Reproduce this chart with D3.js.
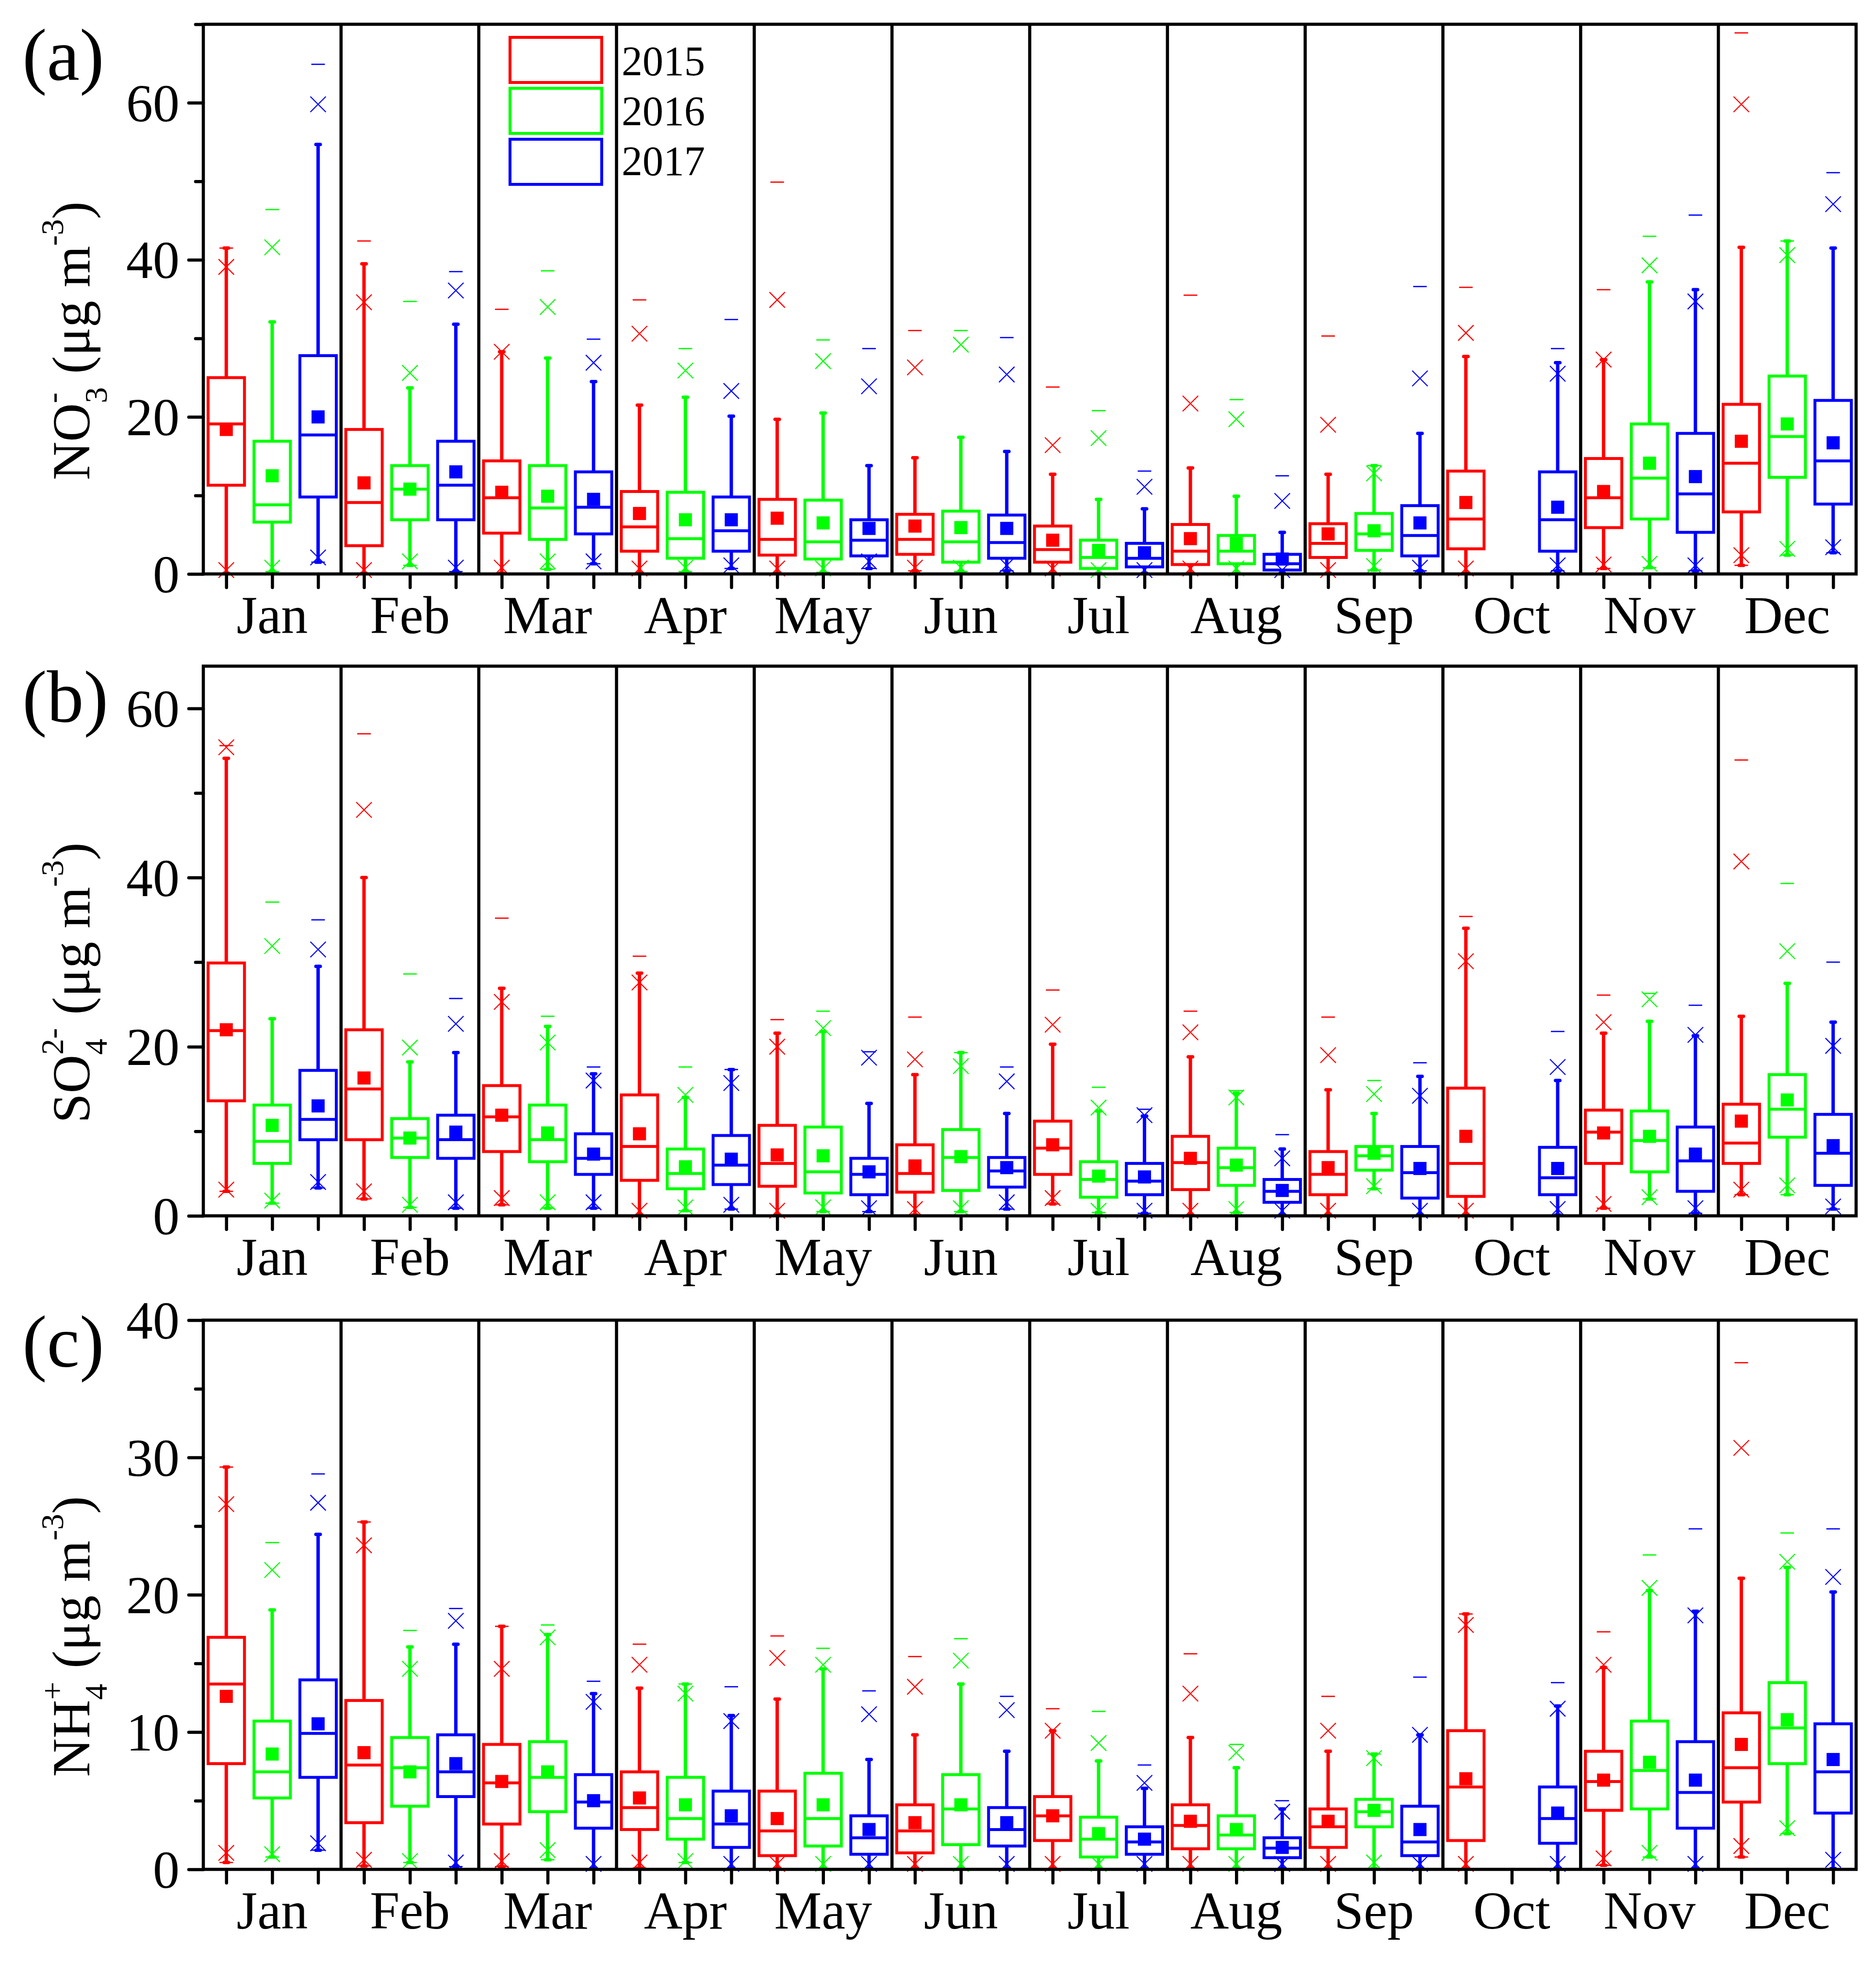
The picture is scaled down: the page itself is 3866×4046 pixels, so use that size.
<!DOCTYPE html>
<html>
<head>
<meta charset="utf-8">
<script src="https://cdn.jsdelivr.net/npm/d3@7"></script>
<style>
  html, body { margin: 0; padding: 0; background: #fff; }
  svg { display: block; }
  text { font-family: "Liberation Serif", "Times New Roman", serif; fill: #000; }
</style>
</head>
<body>
<svg id="chart" width="3866" height="4046"></svg>
<script>
const months = ["Jan", "Feb", "Mar", "Apr", "May", "Jun", "Jul", "Aug", "Sep", "Oct", "Nov", "Dec"];
const years = ["2015", "2016", "2017"];
const yearColors = ["#ff0000", "#00ff00", "#0000ff"];

// each box: [lowWhisker(=min), p1, q1, median, q3, highWhisker, p99, max, mean]
const no3_2015 = [
  [0.1, 0.5, 11.3, 19.1, 25.0, 41.5, 39.1, 41.5, 18.4],
  [0.1, 0.5, 3.6, 9.1, 18.4, 39.5, 34.6, 42.4, 11.6],
  [0.1, 0.8, 5.2, 9.7, 14.4, 28.3, 28.3, 33.7, 10.4],
  [0.1, 0.7, 2.9, 6.0, 10.5, 21.5, 30.6, 34.9, 7.7],
  [0.1, 0.7, 2.4, 4.4, 9.5, 19.7, 34.9, 49.9, 7.1],
  [0.4, 0.8, 2.5, 4.4, 7.6, 14.8, 26.3, 31.0, 6.1],
  [0.1, 0.7, 1.5, 3.1, 6.1, 12.7, 16.4, 23.8, 4.3],
  [0.1, 0.7, 1.2, 2.9, 6.3, 13.5, 21.7, 35.5, 4.5],
  [0.1, 0.5, 2.1, 3.9, 6.4, 12.7, 19.0, 30.3, 5.1],
  [0.1, 0.7, 3.2, 7.0, 13.1, 27.7, 30.7, 36.5, 9.1],
  [0.7, 1.2, 5.9, 9.7, 14.7, 27.3, 27.3, 36.2, 10.5],
  [1.1, 2.4, 7.9, 14.1, 21.6, 41.6, 59.8, 68.9, 16.9]
];
const no3_2016 = [
  [0.3, 0.8, 6.6, 8.8, 16.9, 32.1, 41.6, 46.4, 12.5],
  [1.1, 1.6, 6.9, 10.8, 13.8, 23.7, 25.6, 34.7, 10.8],
  [0.6, 1.6, 4.4, 8.4, 13.8, 27.5, 34.0, 38.6, 9.9],
  [0.3, 0.8, 2.0, 4.5, 10.4, 22.5, 25.9, 28.7, 6.9],
  [0.2, 0.7, 1.9, 4.1, 9.4, 20.5, 27.1, 29.8, 6.5],
  [0.3, 0.8, 1.5, 4.1, 8.0, 17.4, 29.2, 31.0, 5.9],
  [0.1, 0.5, 0.7, 2.1, 4.3, 9.5, 17.3, 20.8, 3.0],
  [0.1, 0.7, 1.3, 2.9, 4.9, 9.9, 19.7, 22.2, 3.9],
  [0.5, 1.0, 3.0, 5.1, 7.7, 13.8, 12.8, 13.8, 5.5],
  null,
  [0.8, 1.3, 7.0, 12.2, 19.1, 37.2, 39.3, 43.0, 14.1],
  [2.4, 3.2, 12.3, 17.5, 25.2, 42.4, 40.6, 42.4, 19.1]
];
const no3_2017 = [
  [1.5, 2.1, 9.8, 17.7, 27.8, 54.7, 59.8, 64.9, 20.0],
  [0.3, 0.8, 6.9, 11.3, 16.9, 31.8, 36.1, 38.5, 13.0],
  [1.3, 1.6, 5.1, 8.5, 13.0, 24.5, 26.9, 29.9, 9.5],
  [0.7, 1.1, 2.9, 5.5, 9.8, 20.1, 23.3, 32.4, 6.9],
  [0.7, 1.6, 2.3, 4.3, 6.9, 13.8, 23.9, 28.7, 5.8],
  [0.4, 1.1, 2.0, 4.0, 7.5, 15.6, 25.4, 30.1, 5.8],
  [0.1, 0.5, 0.9, 2.0, 3.9, 8.3, 11.1, 13.1, 2.7],
  [0.1, 0.5, 0.5, 1.3, 2.5, 5.3, 9.3, 12.5, 1.9],
  [0.4, 0.8, 2.3, 4.9, 8.7, 17.9, 24.9, 36.6, 6.5],
  [0.4, 1.1, 2.9, 6.9, 13.0, 26.9, 25.5, 28.7, 8.5],
  [0.4, 1.1, 5.3, 10.2, 17.9, 36.2, 34.7, 45.7, 12.4],
  [2.7, 3.4, 8.9, 14.4, 22.1, 41.5, 47.1, 51.1, 16.7]
];

const so4_2015 = [
  [2.9, 3.1, 13.6, 21.9, 29.9, 54.1, 55.4, 55.6, 22.0],
  [2.0, 2.9, 9.0, 15.0, 22.0, 40.0, 48.0, 57.0, 16.3],
  [1.3, 2.1, 7.6, 11.7, 15.4, 26.9, 25.3, 35.2, 11.9],
  [0.1, 0.6, 4.2, 8.2, 14.3, 28.7, 27.6, 30.7, 9.7],
  [0.1, 0.6, 3.5, 6.2, 10.7, 21.6, 20.0, 23.2, 7.2],
  [0.1, 0.8, 2.8, 5.0, 8.4, 16.7, 18.5, 23.5, 5.9],
  [1.4, 2.1, 4.9, 8.0, 11.2, 20.3, 22.6, 26.7, 8.4],
  [0.1, 0.6, 3.1, 6.3, 9.4, 18.8, 21.7, 24.2, 6.8],
  [0.1, 0.6, 2.5, 4.9, 7.6, 14.9, 19.0, 23.5, 5.7],
  [0.1, 0.6, 2.3, 6.2, 15.1, 34.0, 30.1, 35.4, 9.4],
  [0.9, 1.4, 6.2, 9.9, 12.5, 21.6, 22.9, 26.1, 9.8],
  [2.5, 3.1, 6.2, 8.6, 13.2, 23.6, 41.9, 53.9, 11.2]
];
const so4_2016 = [
  [1.5, 1.8, 6.2, 8.8, 13.1, 23.3, 31.9, 37.1, 10.7],
  [1.0, 1.3, 6.9, 9.2, 11.5, 18.2, 19.9, 28.6, 9.2],
  [0.9, 1.6, 6.4, 9.0, 13.1, 22.4, 20.5, 23.6, 9.8],
  [0.6, 1.0, 3.2, 5.0, 7.9, 14.0, 14.3, 17.6, 5.8],
  [0.5, 1.0, 2.7, 5.2, 10.5, 21.8, 22.2, 24.2, 7.1],
  [0.5, 0.9, 3.0, 6.9, 10.2, 19.3, 17.7, 19.3, 7.0],
  [0.4, 0.6, 2.2, 4.3, 6.4, 12.4, 12.8, 15.2, 4.7],
  [0.4, 0.8, 3.6, 5.7, 8.0, 14.5, 14.0, 14.8, 6.0],
  [3.2, 3.5, 5.4, 7.1, 8.2, 12.1, 14.4, 16.0, 7.4],
  null,
  [2.0, 2.2, 5.2, 8.9, 12.4, 23.0, 25.6, 26.3, 9.4],
  [2.5, 3.6, 9.3, 12.6, 16.7, 27.5, 31.3, 39.3, 13.7]
];
const so4_2017 = [
  [3.3, 4.0, 9.0, 11.4, 17.2, 29.5, 31.5, 35.0, 13.0],
  [0.9, 1.6, 6.8, 9.0, 11.9, 19.3, 22.7, 25.7, 9.9],
  [0.9, 1.6, 4.9, 6.8, 9.7, 16.8, 16.0, 17.6, 7.3],
  [0.8, 1.3, 3.7, 6.0, 9.5, 17.3, 15.7, 17.3, 6.7],
  [0.5, 0.9, 2.5, 4.9, 6.8, 13.3, 18.7, 19.4, 5.2],
  [0.8, 1.6, 3.4, 5.3, 6.9, 12.1, 15.9, 17.6, 5.7],
  [0.3, 0.6, 2.5, 4.1, 6.2, 11.8, 11.9, 12.6, 4.6],
  [0.1, 0.6, 1.6, 2.9, 4.3, 7.9, 6.8, 9.6, 3.0],
  [0.1, 0.6, 2.1, 5.1, 8.2, 16.5, 14.2, 18.1, 5.6],
  [0.1, 0.8, 2.5, 4.5, 8.1, 16.0, 17.6, 21.8, 5.6],
  [0.3, 0.9, 2.9, 6.5, 10.5, 21.3, 21.4, 24.9, 7.3],
  [0.8, 1.1, 3.6, 7.4, 12.0, 22.9, 20.1, 30.0, 8.3]
];

const nh4_2015 = [
  [0.5, 1.2, 7.7, 13.5, 16.9, 29.3, 26.6, 29.3, 12.6],
  [0.25, 0.7, 3.4, 7.6, 12.3, 25.3, 23.6, 25.3, 8.5],
  [0.2, 0.6, 3.3, 6.3, 9.1, 17.7, 14.6, 17.7, 6.4],
  [0.1, 0.5, 2.9, 4.5, 7.1, 13.2, 14.9, 16.4, 5.2],
  [0.05, 0.4, 1.0, 2.8, 5.7, 12.4, 15.4, 17.0, 3.7],
  [0.05, 0.4, 1.2, 2.8, 4.7, 9.8, 13.3, 15.5, 3.4],
  [0.05, 0.4, 2.1, 3.9, 5.3, 10.1, 10.1, 11.7, 3.9],
  [0.05, 0.4, 1.5, 3.2, 4.7, 9.6, 12.8, 15.7, 3.5],
  [0.05, 0.4, 1.6, 3.1, 4.4, 8.6, 10.1, 12.6, 3.5],
  [0.05, 0.4, 2.1, 6.0, 10.1, 18.6, 17.8, 18.6, 6.6],
  [0.3, 0.8, 4.3, 6.4, 8.6, 14.7, 14.9, 17.3, 6.5],
  [0.9, 1.7, 4.9, 7.4, 11.4, 21.2, 30.7, 36.9, 9.1]
];
const nh4_2016 = [
  [0.9, 1.1, 5.2, 7.1, 10.8, 18.9, 21.8, 23.8, 8.4],
  [0.5, 0.6, 4.6, 7.4, 9.6, 16.2, 14.6, 17.4, 7.1],
  [0.7, 1.4, 4.2, 6.7, 9.3, 17.1, 16.9, 17.8, 7.1],
  [0.5, 0.6, 2.2, 3.7, 6.7, 13.5, 12.8, 13.5, 4.7],
  [0.05, 0.4, 1.7, 3.7, 7.0, 14.6, 14.9, 16.1, 4.7],
  [0.05, 0.4, 1.8, 4.4, 6.9, 13.5, 15.2, 16.8, 4.7],
  [0.05, 0.4, 0.9, 2.2, 3.8, 7.9, 9.2, 11.5, 2.6],
  [0.05, 0.4, 1.5, 2.5, 3.9, 7.4, 8.5, 9.1, 2.9],
  [0.05, 0.5, 3.1, 4.2, 5.1, 8.4, 8.1, 8.4, 4.3],
  null,
  [0.9, 1.2, 4.4, 7.2, 10.8, 20.3, 20.5, 22.9, 7.8],
  [2.6, 3.0, 7.7, 10.3, 13.6, 22.0, 22.4, 24.5, 10.9]
];
const nh4_2017 = [
  [1.4, 1.9, 6.7, 9.9, 13.8, 24.4, 26.7, 28.8, 10.6],
  [0.2, 0.5, 5.3, 7.1, 9.8, 16.4, 18.1, 19.0, 7.7],
  [0.05, 0.4, 3.0, 4.9, 6.9, 12.8, 12.2, 13.7, 5.0],
  [0.05, 0.4, 1.6, 3.3, 5.7, 11.2, 10.8, 13.3, 3.9],
  [0.05, 0.4, 1.1, 2.3, 3.9, 8.0, 11.3, 13.0, 2.9],
  [0.05, 0.4, 1.7, 2.9, 4.5, 8.6, 11.6, 12.6, 3.4],
  [0.05, 0.4, 1.1, 2.0, 3.1, 5.9, 6.3, 7.6, 2.2],
  [0.05, 0.4, 0.85, 1.55, 2.3, 4.4, 4.2, 5.0, 1.6],
  [0.05, 0.4, 1.0, 2.0, 4.6, 9.8, 9.8, 14.0, 2.9],
  [0.05, 0.4, 1.9, 3.7, 6.0, 11.9, 11.7, 13.6, 4.1],
  [0.05, 0.4, 3.0, 5.6, 9.3, 18.8, 18.5, 24.8, 6.5],
  [0.05, 0.7, 4.1, 7.1, 10.6, 20.2, 21.3, 24.8, 8.0]
];

const ticksA = [0, 20, 40, 60], minorA = [10, 30, 50, 70];
const ticksB = [0, 20, 40, 60], minorB = [10, 30, 50];
const ticksC = [0, 10, 20, 30, 40], minorC = [5, 15, 25, 35];

const svg = d3.select("#chart");
const left = 419, right = 3825;
const x = d3.scaleLinear().domain([0, 36]).range([left, right]);
const slotW = x(1) - x(0);
const boxW = 75;

const panels = [
  { label: "(a)", top: 50, bottom: 1183, max: 70, major: ticksA, minor: minorA,
    series: [no3_2015, no3_2016, no3_2017], ion: ["NO", "-", "3"] },
  { label: "(b)", top: 1373, bottom: 2506, max: 65, major: ticksB, minor: minorB,
    series: [so4_2015, so4_2016, so4_2017], ion: ["SO", "2-", "4"] },
  { label: "(c)", top: 2721, bottom: 3853, max: 40, major: ticksC, minor: minorC,
    series: [nh4_2015, nh4_2016, nh4_2017], ion: ["NH", "+", "4"] }
];

function yTitle(g, ion, cx, cy) {
  const t = g.append("text")
    .attr("transform", `translate(${cx},${cy}) rotate(-90)`)
    .attr("text-anchor", "middle")
    .attr("font-size", 110);
  t.append("tspan").text(ion[0]);
  const sup = t.append("tspan").attr("font-size", 66).attr("dy", -54).text(ion[1]);
  const supW = sup.node().getComputedTextLength();
  const sub = t.append("tspan").attr("font-size", 66).attr("dx", -supW).attr("dy", 54 + 36).text(ion[2]);
  const subW = sub.node().getComputedTextLength();
  t.append("tspan").attr("dx", Math.max(0, supW - subW)).attr("dy", -36).text(" (\u03bcg m");
  t.append("tspan").attr("font-size", 66).attr("dy", -54).text("-3");
  t.append("tspan").attr("dy", 54).text(")");
}

function drawPanel(p) {
  const y = d3.scaleLinear().domain([0, p.max]).range([p.bottom, p.top]);
  const g = svg.append("g");

  // boxes
  p.series.forEach((rows, k) => {
    const color = yearColors[k];
    const boxes = rows.map((s, m) => s && { s, cx: x(m * 3 + k + 0.5) }).filter(Boolean);
    const bg = g.append("g").attr("stroke", color).attr("fill", "none");

    bg.selectAll(".whisker").data(boxes).join("path")
      .attr("stroke-width", 7)
      .attr("d", d => `M${d.cx},${y(d.s[0])}V${y(d.s[2])}M${d.cx},${y(d.s[4])}V${y(d.s[5])}`);
    bg.selectAll(".cap").data(boxes.flatMap(d => [[d.cx, d.s[0]], [d.cx, d.s[5]]])).join("line")
      .attr("stroke-width", 7).attr("stroke-linecap", "round")
      .attr("x1", d => d[0] - 4.5).attr("x2", d => d[0] + 4.5)
      .attr("y1", d => y(d[1])).attr("y2", d => y(d[1]));
    bg.selectAll("rect.box").data(boxes).join("rect")
      .attr("class", "box")
      .attr("stroke-width", 6)
      .attr("x", d => d.cx - boxW / 2).attr("width", boxW)
      .attr("y", d => y(d.s[4])).attr("height", d => y(d.s[2]) - y(d.s[4]));
    bg.selectAll(".median").data(boxes).join("line")
      .attr("stroke-width", 6)
      .attr("x1", d => d.cx - boxW / 2).attr("x2", d => d.cx + boxW / 2)
      .attr("y1", d => y(d.s[3])).attr("y2", d => y(d.s[3]));
    bg.selectAll("rect.mean").data(boxes).join("rect")
      .attr("class", "mean")
      .attr("stroke", "none").attr("fill", color)
      .attr("x", d => d.cx - 13.5).attr("width", 27)
      .attr("y", d => y(d.s[8]) - 13.5).attr("height", 27);
    const crosses = boxes.flatMap(d => [[d.cx, d.s[1]], [d.cx, d.s[6]]]);
    bg.selectAll(".cross").data(crosses).join("path")
      .attr("stroke-width", 2.2)
      .attr("d", d => {
        const cy = y(d[1]), h = 16;
        return `M${d[0] - h},${cy - h}L${d[0] + h},${cy + h}M${d[0] - h},${cy + h}L${d[0] + h},${cy - h}`;
      });
    const dashes = boxes.flatMap(d => [[d.cx, d.s[0]], [d.cx, d.s[7]]]);
    bg.selectAll(".dash").data(dashes).join("line")
      .attr("stroke-width", 2.6)
      .attr("x1", d => d[0] - 14).attr("x2", d => d[0] + 14)
      .attr("y1", d => y(d[1])).attr("y2", d => y(d[1]));
  });

  // month separators and frame
  g.append("g").selectAll("line").data(d3.range(1, 12)).join("line")
    .attr("stroke", "#000").attr("stroke-width", 6.5)
    .attr("x1", d => x(d * 3)).attr("x2", d => x(d * 3))
    .attr("y1", p.top).attr("y2", p.bottom);
  g.append("rect")
    .attr("x", left).attr("y", p.top)
    .attr("width", right - left).attr("height", p.bottom - p.top)
    .attr("fill", "none").attr("stroke", "#000").attr("stroke-width", 6.5);

  // y axis
  const yAxis = g.append("g").attr("transform", `translate(${left},0)`)
    .call(d3.axisLeft(y).tickValues(p.major).tickSize(30).tickPadding(19).tickFormat(d3.format("d")));
  const yMinor = g.append("g").attr("transform", `translate(${left},0)`)
    .call(d3.axisLeft(y).tickValues(p.minor).tickSize(16).tickFormat(""));
  // x axis
  const xAxis = g.append("g").attr("transform", `translate(0,${p.bottom})`)
    .call(d3.axisBottom(x).tickValues(d3.range(36).map(i => i + 0.5)).tickSize(28).tickFormat(""));
  [yAxis, yMinor, xAxis].forEach(a => {
    a.select(".domain").remove();
    a.selectAll(".tick line").attr("stroke", "#000").attr("stroke-width", 6.5).attr("stroke-linecap", "round");
  });
  yAxis.selectAll(".tick text")
    .attr("font-family", "Liberation Serif, Times New Roman, serif")
    .attr("font-size", 110).attr("fill", "#000").attr("dy", "0.34em");

  g.append("g").selectAll("text").data(months).join("text")
    .attr("x", (d, i) => x(i * 3 + 1.5)).attr("y", p.bottom + 122)
    .attr("text-anchor", "middle").attr("font-size", 110)
    .text(d => d);

  svg.append("text")
    .attr("x", 46).attr("y", p.top + (p.label === "(c)" ? 96 : 115))
    .attr("font-size", 152)
    .text(p.label);

  yTitle(svg, p.ion, 184, (p.top + p.bottom) / 2 + 86);
}

panels.forEach(drawPanel);

// legend
const legend = svg.append("g");
legend.selectAll("rect").data(years).join("rect")
  .attr("x", 1051).attr("y", (d, i) => 77 + i * 105)
  .attr("width", 189).attr("height", 93)
  .attr("fill", "none").attr("stroke", (d, i) => yearColors[i]).attr("stroke-width", 6);
legend.selectAll("text").data(years).join("text")
  .attr("x", 1281).attr("y", (d, i) => 155 + i * 103)
  .attr("font-size", 86)
  .text(d => d);
</script>
</body>
</html>
